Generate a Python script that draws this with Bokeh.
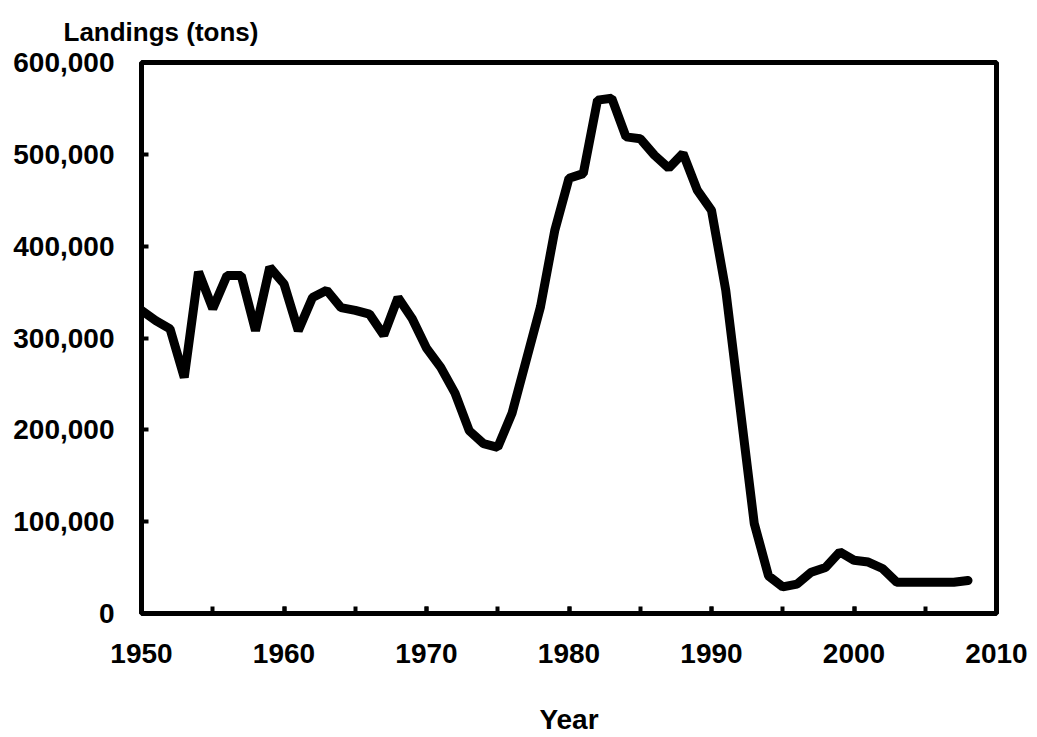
from bokeh.plotting import figure
from bokeh.models import SingleIntervalTicker, NumeralTickFormatter, Range1d, ColumnDataSource
from bokeh.embed import file_html
from bokeh.resources import INLINE

years = list(range(1950, 2009))
landings = [
    330000, 319000, 310000, 257000, 372000, 332000, 368000, 368000, 308000, 377000,
    359000, 308000, 344000, 352000, 333000, 330000, 326000, 303000, 344000, 321000,
    289000, 268000, 240000, 199000, 185000, 181000, 218000, 276000, 334000, 417000,
    474000, 479000, 559000, 561000, 519000, 517000, 499000, 485000, 501000, 461000,
    439000, 352000, 225000, 98000, 41000, 29000, 32000, 45000, 50000, 67000,
    58000, 56000, 49000, 34000, 34000, 34000, 34000, 34000, 36000,
]
x_label = "Year"
y_label = "Landings (tons)"

FONT = "Liberation Sans"

p = figure(width=1037, height=737, output_backend="svg", toolbar_location=None,
           x_range=Range1d(1950, 2010), y_range=Range1d(0, 600000),
           min_border_left=141, min_border_right=41, min_border_top=62, min_border_bottom=124)

src = ColumnDataSource(dict(year=years, landings=landings))
p.line("year", "landings", source=src, line_color="black", line_width=9, line_cap="round")

p.xgrid.visible = False
p.ygrid.visible = False
p.outline_line_color = "black"
p.outline_line_width = 5
p.outline_line_alpha = 1.0

p.title.text = y_label
p.title.align = "left"
p.title.vertical_align = "top"
p.title.offset = -78
p.title.text_font = FONT
p.title.text_font_size = "26px"
p.title.text_font_style = "bold"
p.title.text_color = "black"
p.title.standoff = 27

xa = p.xaxis[0]
xa.ticker = SingleIntervalTicker(interval=10, num_minor_ticks=2)
xa.axis_line_color = None
xa.major_tick_in = 7
xa.major_tick_out = 0
xa.minor_tick_in = 7
xa.minor_tick_out = 0
xa.major_tick_line_width = 4
xa.minor_tick_line_width = 4
xa.major_label_text_font = FONT
xa.major_label_text_font_size = "28px"
xa.major_label_text_font_style = "bold"
xa.major_label_text_color = "black"
xa.major_label_standoff = 30
xa.axis_label = x_label
xa.axis_label_text_font = FONT
xa.axis_label_text_font_size = "28px"
xa.axis_label_text_font_style = "bold"
xa.axis_label_text_color = "black"
xa.axis_label_standoff = 38

ya = p.yaxis[0]
ya.ticker = SingleIntervalTicker(interval=100000, num_minor_ticks=0)
ya.formatter = NumeralTickFormatter(format="0,0")
ya.axis_line_color = None
ya.major_tick_in = 7
ya.major_tick_out = 0
ya.minor_tick_line_color = None
ya.major_tick_line_width = 4
ya.major_label_text_font = FONT
ya.major_label_text_font_size = "28px"
ya.major_label_text_font_style = "bold"
ya.major_label_text_color = "black"
ya.major_label_standoff = 27

open("out.html", "w").write(file_html(p, INLINE))
